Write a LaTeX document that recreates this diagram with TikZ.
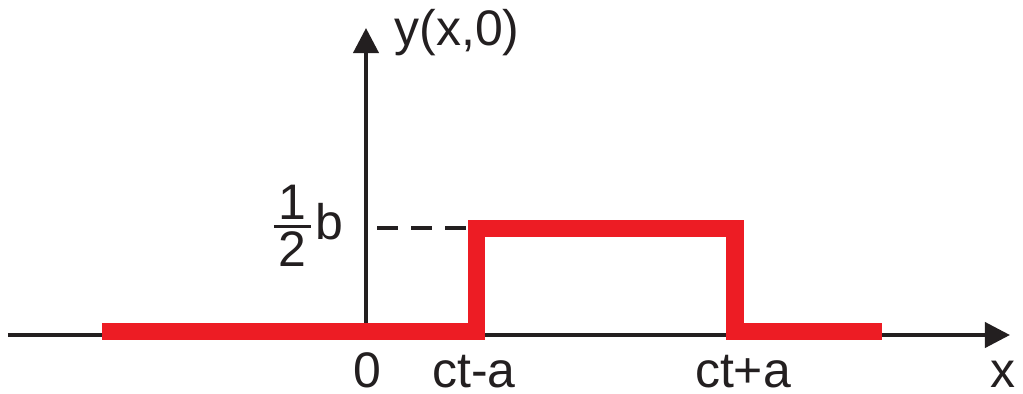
\documentclass[tikz,border=0pt]{standalone}
\usepackage{amsmath}
\usepackage{fontspec}
\setmainfont{Liberation Sans}
\usetikzlibrary{arrows.meta}
\definecolor{pulse}{HTML}{ED1C24}
\definecolor{ink}  {HTML}{231F20}

\begin{document}
\begin{tikzpicture}[x=0.01cm,y=-0.01cm,
    axis/.style={draw=ink,line width=0.04cm,-{Triangle[length=0.25cm,width=0.25cm]}},
    lbl/.style={text=ink,inner sep=0pt,font=\fontsize{14.2}{17}\selectfont}]
  \useasboundingbox (0,0) rectangle (1023,393);
  % axes
  \coordinate (xl) at (8,335);
  \coordinate (xr) at (1010,335);
  \coordinate (yb) at (366,335);
  \coordinate (yt) at (366,28);
  \draw[axis] (xl) -- (xr);
  \draw[axis] (yb) -- (yt);
  % level of the pulse
  \coordinate (dl) at (377,228);
  \coordinate (dr) at (468,228);
  \draw[ink,line width=0.035cm,dash pattern=on 0.21cm off 0.13cm] (dl) -- (dr);
  % the pulse
  \coordinate (p0) at (102,331.5);
  \coordinate (p1) at (476.5,331.5);
  \coordinate (p2) at (476.5,228);
  \coordinate (p3) at (735,228);
  \coordinate (p4) at (735,331.5);
  \coordinate (p5) at (882,331.5);
  \draw[pulse,line width=0.17cm] (p0) -- (p1) -- (p2) -- (p3) -- (p4) -- (p5);
  % labels
  \node[lbl,anchor=base west] (ylab) at (394,45) {y(x,0)};
  \node[lbl,anchor=base west] (hlab) at (269,239)
    {$\genfrac{}{}{0.035cm}{1}{\mbox{\kern1.3pt 1\kern1.3pt}}{\mbox{\kern1.3pt 2\kern1.3pt}}$b};
  \node[lbl,anchor=base] (zero) at (367,387) {0};
  \node[lbl,anchor=base] (cma) at (474,387) {ct-a};
  \node[lbl,anchor=base] (cpa) at (743,387) {ct+a};
  \node[lbl,anchor=base] (xlab) at (1003,387) {x};
\end{tikzpicture}
\end{document}
